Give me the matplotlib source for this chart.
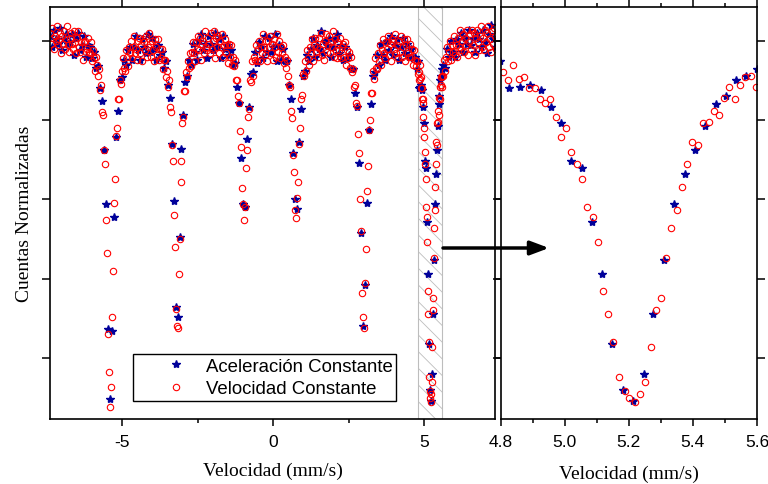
import numpy as np
import matplotlib.pyplot as plt
from matplotlib.patches import FancyArrowPatch

plt.rcParams['font.family'] = 'Liberation Sans'
plt.rcParams['axes.unicode_minus'] = False
plt.rcParams['hatch.linewidth'] = 0.6

# cuentas normalizadas (x1000) leidas del espectro
# velocidad constante, canales de -7.40 a 4.777 mm/s
vc_izq = [1005, 998, 1008, 1002, 995, 1003, 1000, 1009, 997, 1001,
          1005, 992, 1003, 998, 1006, 995, 1001, 1009, 997, 993,
          1002, 1005, 998, 995, 1006, 999, 992, 1002, 1006, 996,
          993, 999, 1003, 988, 999, 1000, 993, 995, 1002, 993,
          992, 999, 987, 994, 989, 981, 990, 985, 978, 982,
          969, 972, 955, 953, 931, 922, 887, 866, 815, 791,
          769, 782, 826, 855, 898, 913, 940, 945, 963, 963,
          975, 973, 981, 989, 983, 981, 994, 990, 984, 996,
          992, 1000, 989, 996, 1003, 992, 995, 988, 1000, 1002,
          992, 997, 987, 1001, 999, 994, 1003, 990, 996, 1005,
          998, 990, 1000, 994, 987, 1001, 996, 991, 1001, 988,
          995, 989, 995, 982, 988, 988, 977, 981, 971, 975,
          958, 955, 934, 924, 890, 870, 831, 820, 819, 853,
          875, 911, 924, 948, 952, 968, 968, 980, 977, 987,
          983, 992, 984, 993, 999, 992, 987, 999, 995, 1003,
          994, 1002, 988, 998, 1000, 992, 1006, 996, 994, 1002,
          998, 992, 1005, 995, 1000, 1006, 989, 1002, 996, 1003,
          992, 1000, 996, 1004, 990, 997, 1001, 992, 997, 986,
          998, 990, 997, 985, 990, 984, 988, 975, 975, 965,
          961, 943, 933, 907, 897, 887, 895, 920, 931, 952,
          957, 975, 974, 987, 978, 990, 988, 997, 987, 995,
          1000, 987, 996, 992, 1004, 996, 991, 1000, 987, 1000,
          996, 1003, 992, 998, 988, 1001, 996, 990, 1004, 993,
          1000, 989, 996, 992, 997, 986, 990, 983, 988, 978,
          972, 971, 956, 951, 928, 917, 893, 888, 901, 911,
          935, 945, 963, 966, 979, 978, 987, 981, 994, 989,
          985, 996, 992, 1001, 987, 997, 1002, 993, 996, 990,
          1002, 995, 1005, 991, 998, 988, 1000, 1004, 993, 997,
          1003, 992, 999, 996, 1006, 990, 1001, 994, 989, 999,
          994, 1002, 989, 996, 998, 990, 999, 985, 994, 989,
          993, 983, 990, 980, 982, 971, 972, 961, 959, 941,
          929, 900, 880, 841, 826, 819, 847, 869, 905, 921,
          944, 950, 967, 967, 981, 976, 989, 983, 982, 992,
          987, 997, 985, 994, 1001, 992, 989, 999, 995, 1003,
          991, 998, 987, 1001, 999, 995, 1004, 992, 997, 989,
          1000, 993, 1003, 990, 996, 1001, 987, 997, 1001, 992,
          990, 998, 990, 995, 985, 994, 988, 984, 987, 979]
# velocidad constante, canales de 5.613 a 7.395 mm/s
vc_der = [978, 988, 981, 990, 996, 987, 993, 1000, 988, 997,
          993, 1003, 991, 997, 990, 1002, 996, 1007, 994, 1000,
          1004, 993, 1002, 997, 1007, 991, 999, 1004, 995, 1007,
          997, 1005, 991, 1002, 1007, 999, 994, 1003, 1009, 996,
          1002, 994, 1007, 999, 1005, 1009, 996, 1001, 993, 1006,
          998, 1008, 1003, 995, 1004]
# aceleracion constante, canales de -7.40 a 4.744 mm/s
ac_izq = [1003, 996, 1007, 1001, 998, 1008, 994, 1001, 1004, 998,
          999, 1004, 991, 1002, 1005, 994, 997, 1003, 990, 997,
          996, 989, 993, 983, 984, 970, 962, 931, 897, 818,
          774, 817, 889, 939, 956, 975, 977, 988, 985, 994,
          996, 988, 996, 1003, 994, 988, 1001, 996, 992, 1004,
          993, 1002, 995, 988, 997, 991, 993, 983, 987, 972,
          964, 935, 899, 832, 826, 876, 932, 953, 974, 978,
          988, 985, 998, 993, 988, 1000, 1004, 994, 998, 989,
          1003, 998, 994, 1005, 996, 1001, 989, 1003, 995, 997,
          991, 994, 985, 986, 971, 961, 926, 897, 895, 938,
          958, 979, 980, 993, 986, 999, 996, 989, 1003, 993,
          1002, 993, 996, 1004, 987, 997, 988, 995, 987, 987,
          972, 963, 929, 900, 894, 936, 957, 978, 981, 991,
          987, 995, 1002, 990, 997, 995, 1006, 992, 1000, 997,
          1002, 990, 996, 1001, 1004, 992, 997, 988, 996, 989,
          991, 982, 982, 967, 958, 923, 879, 820, 846, 898,
          944, 960, 978, 980, 991, 985, 998, 991, 988, 1000,
          994, 1003, 991, 997, 1001, 988, 996, 1002, 992, 998,
          990, 995, 989, 990, 982]
# aceleracion constante, canales de 5.632 a 7.348 mm/s
ac_der = [985, 983, 995, 990, 1000, 993, 990, 1001, 998, 1005,
          993, 1002, 998, 1007, 997, 1002, 993, 1005, 1001, 996,
          1007, 999, 992, 1004, 1010, 1001, 996]

# ventana ampliada 4.8 - 5.6 mm/s
vc_vent_x = [4.807, 4.824, 4.840, 4.857, 4.873, 4.890, 4.907, 4.922, 4.940, 4.955,
             4.972, 4.988, 5.004, 5.021, 5.038, 5.054, 5.071, 5.087, 5.103, 5.120,
             5.135, 5.152, 5.169, 5.187, 5.202, 5.219, 5.235, 5.251, 5.268, 5.284,
             5.301, 5.317, 5.333, 5.350, 5.367, 5.382, 5.398, 5.416, 5.432, 5.449,
             5.466, 5.481, 5.498, 5.513, 5.531, 5.547, 5.563, 5.580, 5.596]
vc_vent_y = [980, 975, 985, 976, 977, 970, 970, 963, 961, 963,
             952, 939, 945, 930, 922, 913, 895, 889, 873, 842,
             828, 810, 788, 779, 775, 772, 777, 785, 807, 830,
             838, 863, 882, 893, 908, 922, 936, 934, 948, 949,
             956, 953, 964, 971, 963, 972, 977, 978, 971]
ac_vent_x = [4.797, 4.828, 4.862, 4.893, 4.925, 4.957, 4.988, 5.021, 5.054, 5.085,
             5.117, 5.149, 5.181, 5.213, 5.246, 5.277, 5.310, 5.342, 5.374, 5.406,
             5.438, 5.471, 5.502, 5.534, 5.567, 5.599]
ac_vent_y = [987, 970, 971, 972, 969, 958, 948, 924, 920, 886,
             853, 809, 780, 773, 790, 828, 862, 897, 916, 931,
             946, 960, 965, 975, 978, 982]

vel_vc = np.concatenate([np.linspace(-7.40, 4.777, len(vc_izq)), vc_vent_x,
                         np.linspace(5.613, 7.395, len(vc_der))])
cts_vc = np.concatenate([vc_izq, vc_vent_y, vc_der])
vel_ac = np.concatenate([np.linspace(-7.40, 4.744, len(ac_izq)), ac_vent_x,
                         np.linspace(5.632, 7.348, len(ac_der))])
cts_ac = np.concatenate([ac_izq, ac_vent_y, ac_der])

fig = plt.figure(figsize=(7.68, 4.85), dpi=100)
ax1 = fig.add_axes([0.0651, 0.134, 0.5794, 0.8505])
ax2 = fig.add_axes([0.6517, 0.134, 0.334, 0.8505])

serif = 'Liberation Serif'
for ax in (ax1, ax2):
    ax.plot(vel_ac, cts_ac, linestyle='None', marker='*', markersize=6,
            color='#00009a', label='Aceleración Constante')
    ax.plot(vel_vc, cts_vc, linestyle='None', marker='o', markersize=4.6,
            markerfacecolor='none', markeredgecolor='red', markeredgewidth=0.8,
            label='Velocidad Constante')
    ax.set_ylim(761.55, 1021.56)
    ax.set_yticks([800, 850, 900, 950, 1000])
    ax.tick_params(axis='y', left=True, right=True, labelleft=False,
                   direction='out', length=6, width=1.1)
    ax.tick_params(axis='x', which='both', top=True, bottom=True,
                   direction='out', width=1.1, labelsize=12.5, pad=5.5)
    ax.tick_params(axis='x', which='major', length=5)
    ax.tick_params(axis='x', which='minor', length=3)
    for sp in ax.spines.values():
        sp.set_linewidth(1.2)

ax1.set_xlim(-7.40, 7.34)
ax1.set_xticks([-5, 0, 5])
ax1.set_xticks([-2.5, 2.5], minor=True)
ax1.set_xlabel('Velocidad (mm/s)', family=serif, fontsize=14, labelpad=9.5)
ax1.set_ylabel('Cuentas Normalizadas', family=serif, fontsize=14, labelpad=6)
ax1.axvspan(4.8, 5.6, facecolor='none', edgecolor='#bdbdbd', hatch='\\\\',
            linewidth=0.8, zorder=0)

ax2.set_xlim(4.8, 5.6)
ax2.set_xticks([4.8, 5.0, 5.2, 5.4, 5.6])
ax2.set_xticklabels(['4.8', '5.0', '5.2', '5.4', '5.6'])
ax2.set_xticks([4.9, 5.1, 5.3, 5.5], minor=True)
ax2.set_xlabel('Velocidad (mm/s)', family=serif, fontsize=14, labelpad=11.5)

leg = ax1.legend(loc='upper left', bbox_to_anchor=(133 / 768, 1 - 355 / 485),
                 bbox_transform=fig.transFigure, borderaxespad=0, fontsize=13.4,
                 frameon=True, fancybox=False, edgecolor='black', framealpha=1,
                 handlelength=4.2, handletextpad=-0.5, borderpad=0.2,
                 labelspacing=0.3, numpoints=1)
leg.get_frame().set_linewidth(1.0)

y_flecha = 1 - 249 / 485
fig.add_artist(FancyArrowPatch((443 / 768, y_flecha), (549 / 768, y_flecha),
                               transform=fig.transFigure,
                               arrowstyle='-|>,head_length=0.8,head_width=0.3',
                               mutation_scale=14, linewidth=2.5, color='black',
                               shrinkA=0, shrinkB=0))

fig.savefig('out.png', dpi=100)
